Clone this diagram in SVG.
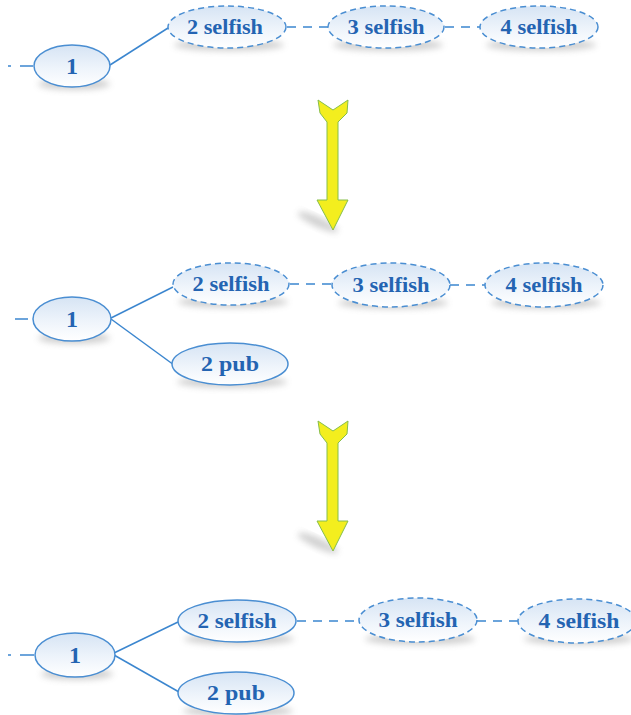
<svg xmlns="http://www.w3.org/2000/svg" width="631" height="715" viewBox="0 0 631 715">
<defs>
<linearGradient id="g" x1="0" y1="0" x2="0" y2="1">
<stop offset="0" stop-color="#d6e4f4"/>
<stop offset="0.55" stop-color="#eef4fb"/>
<stop offset="1" stop-color="#ffffff"/>
</linearGradient>
<filter id="sh" x="-30%" y="-30%" width="160%" height="180%">
<feGaussianBlur stdDeviation="3"/>
</filter>
<style>
.n{fill:url(#g);stroke:#4a8ed2;stroke-width:1.5}
.d{stroke-dasharray:6 4}
.s{fill:#9a9a9a;opacity:0.45;filter:url(#sh)}
.t{font-family:"Liberation Serif","Times New Roman",serif;font-weight:bold;font-size:22px;fill:#2464b2;text-anchor:middle}
.t1{font-size:24px}
.c{stroke:#3b86cf;stroke-width:1.5;fill:none}
.cd{stroke-dasharray:9 7}
.ar{fill:#f3ee1e;stroke:#86be4a;stroke-width:1}
</style>
</defs>

<g id="connectors">
<line class="c" x1="8" y1="66" x2="11" y2="66"/>
<line class="c" x1="20" y1="66" x2="33" y2="66"/>
<line class="c" x1="110" y1="65" x2="168" y2="28"/>
<line class="c cd" x1="287" y1="27" x2="328" y2="27"/>
<line class="c cd" x1="445" y1="27" x2="480" y2="27"/>

<line class="c" x1="15" y1="319" x2="28" y2="319"/>
<line class="c" x1="111" y1="318" x2="173" y2="287"/>
<line class="c" x1="111" y1="319" x2="174" y2="365"/>
<line class="c cd" x1="290" y1="284" x2="332" y2="284"/>
<line class="c cd" x1="450" y1="285" x2="485" y2="285"/>

<line class="c" x1="8" y1="655" x2="11" y2="655"/>
<line class="c" x1="20" y1="655" x2="34" y2="655"/>
<line class="c" x1="114" y1="653" x2="178" y2="622"/>
<line class="c" x1="114" y1="655" x2="179" y2="692"/>
<line class="c cd" x1="297" y1="621" x2="358" y2="621"/>
<line class="c cd" x1="477" y1="621" x2="518" y2="621"/>
</g>

<g id="arrow1">
<ellipse class="s" cx="318" cy="222" rx="22" ry="5" transform="rotate(25 318 222)"/>
<polygon class="ar" points="318,100 333,110 348,100 347,113 338,122 338,200 348,200 333,230 317,200 327,200 327,122 320,113"/>
</g>
<g id="arrow2">
<ellipse class="s" cx="318" cy="543" rx="22" ry="5" transform="rotate(25 318 543)"/>
<polygon class="ar" points="318,421 333,431 348,421 347,434 338,443 338,521 348,521 333,551 317,521 327,521 327,443 320,434"/>
</g>

<!-- panel 1 -->
<g id="p1-n1">
<ellipse class="s" cx="74" cy="84" rx="36" ry="6"/>
<ellipse class="n" cx="72" cy="66" rx="38" ry="21"/>
<text class="t t1" x="72" y="74">1</text>
</g>
<g id="p1-n2">
<ellipse class="s" cx="229" cy="45" rx="55" ry="6"/>
<ellipse class="n d" cx="227" cy="27" rx="59" ry="21"/>
<text class="t" x="225" y="34" textLength="76" lengthAdjust="spacingAndGlyphs">2 selfish</text>
</g>
<g id="p1-n3">
<ellipse class="s" cx="388" cy="45" rx="55" ry="6"/>
<ellipse class="n d" cx="386" cy="27" rx="58" ry="21"/>
<text class="t" x="386" y="34" textLength="77" lengthAdjust="spacingAndGlyphs">3 selfish</text>
</g>
<g id="p1-n4">
<ellipse class="s" cx="541" cy="45" rx="55" ry="6"/>
<ellipse class="n d" cx="539" cy="27" rx="59" ry="21"/>
<text class="t" x="539" y="34" textLength="77" lengthAdjust="spacingAndGlyphs">4 selfish</text>
</g>

<!-- panel 2 -->
<g id="p2-n1">
<ellipse class="s" cx="74" cy="338" rx="36" ry="6"/>
<ellipse class="n" cx="72" cy="319" rx="39" ry="22"/>
<text class="t t1" x="72" y="327">1</text>
</g>
<g id="p2-n2">
<ellipse class="s" cx="233" cy="302" rx="55" ry="6"/>
<ellipse class="n d" cx="231" cy="284" rx="58" ry="21"/>
<text class="t" x="231" y="291" textLength="77" lengthAdjust="spacingAndGlyphs">2 selfish</text>
</g>
<g id="p2-pub">
<ellipse class="s" cx="232" cy="382" rx="55" ry="6"/>
<ellipse class="n" cx="230" cy="364" rx="58" ry="21"/>
<text class="t" x="230" y="371" textLength="58" lengthAdjust="spacingAndGlyphs">2 pub</text>
</g>
<g id="p2-n3">
<ellipse class="s" cx="393" cy="303" rx="55" ry="6"/>
<ellipse class="n d" cx="391" cy="285" rx="59" ry="22"/>
<text class="t" x="391" y="292" textLength="77" lengthAdjust="spacingAndGlyphs">3 selfish</text>
</g>
<g id="p2-n4">
<ellipse class="s" cx="546" cy="303" rx="55" ry="6"/>
<ellipse class="n d" cx="544" cy="285" rx="59" ry="22"/>
<text class="t" x="544" y="292" textLength="77" lengthAdjust="spacingAndGlyphs">4 selfish</text>
</g>

<!-- panel 3 -->
<g id="p3-n1">
<ellipse class="s" cx="77" cy="674" rx="36" ry="6"/>
<ellipse class="n" cx="75" cy="655" rx="40" ry="22"/>
<text class="t t1" x="75" y="663">1</text>
</g>
<g id="p3-n2">
<ellipse class="s" cx="239" cy="639" rx="55" ry="6"/>
<ellipse class="n" cx="237" cy="621" rx="59" ry="21"/>
<text class="t" x="237" y="628" textLength="79" lengthAdjust="spacingAndGlyphs">2 selfish</text>
</g>
<g id="p3-pub">
<ellipse class="s" cx="238" cy="711" rx="55" ry="6"/>
<ellipse class="n" cx="236" cy="693" rx="58" ry="21"/>
<text class="t" x="236" y="700" textLength="58" lengthAdjust="spacingAndGlyphs">2 pub</text>
</g>
<g id="p3-n3">
<ellipse class="s" cx="420" cy="639" rx="55" ry="6"/>
<ellipse class="n d" cx="418" cy="620" rx="59" ry="22"/>
<text class="t" x="418" y="627" textLength="79" lengthAdjust="spacingAndGlyphs">3 selfish</text>
</g>
<g id="p3-n4">
<ellipse class="s" cx="579" cy="639" rx="55" ry="6"/>
<ellipse class="n d" cx="577" cy="621" rx="59" ry="22"/>
<text class="t" x="579" y="628" textLength="81" lengthAdjust="spacingAndGlyphs">4 selfish</text>
</g>
</svg>
